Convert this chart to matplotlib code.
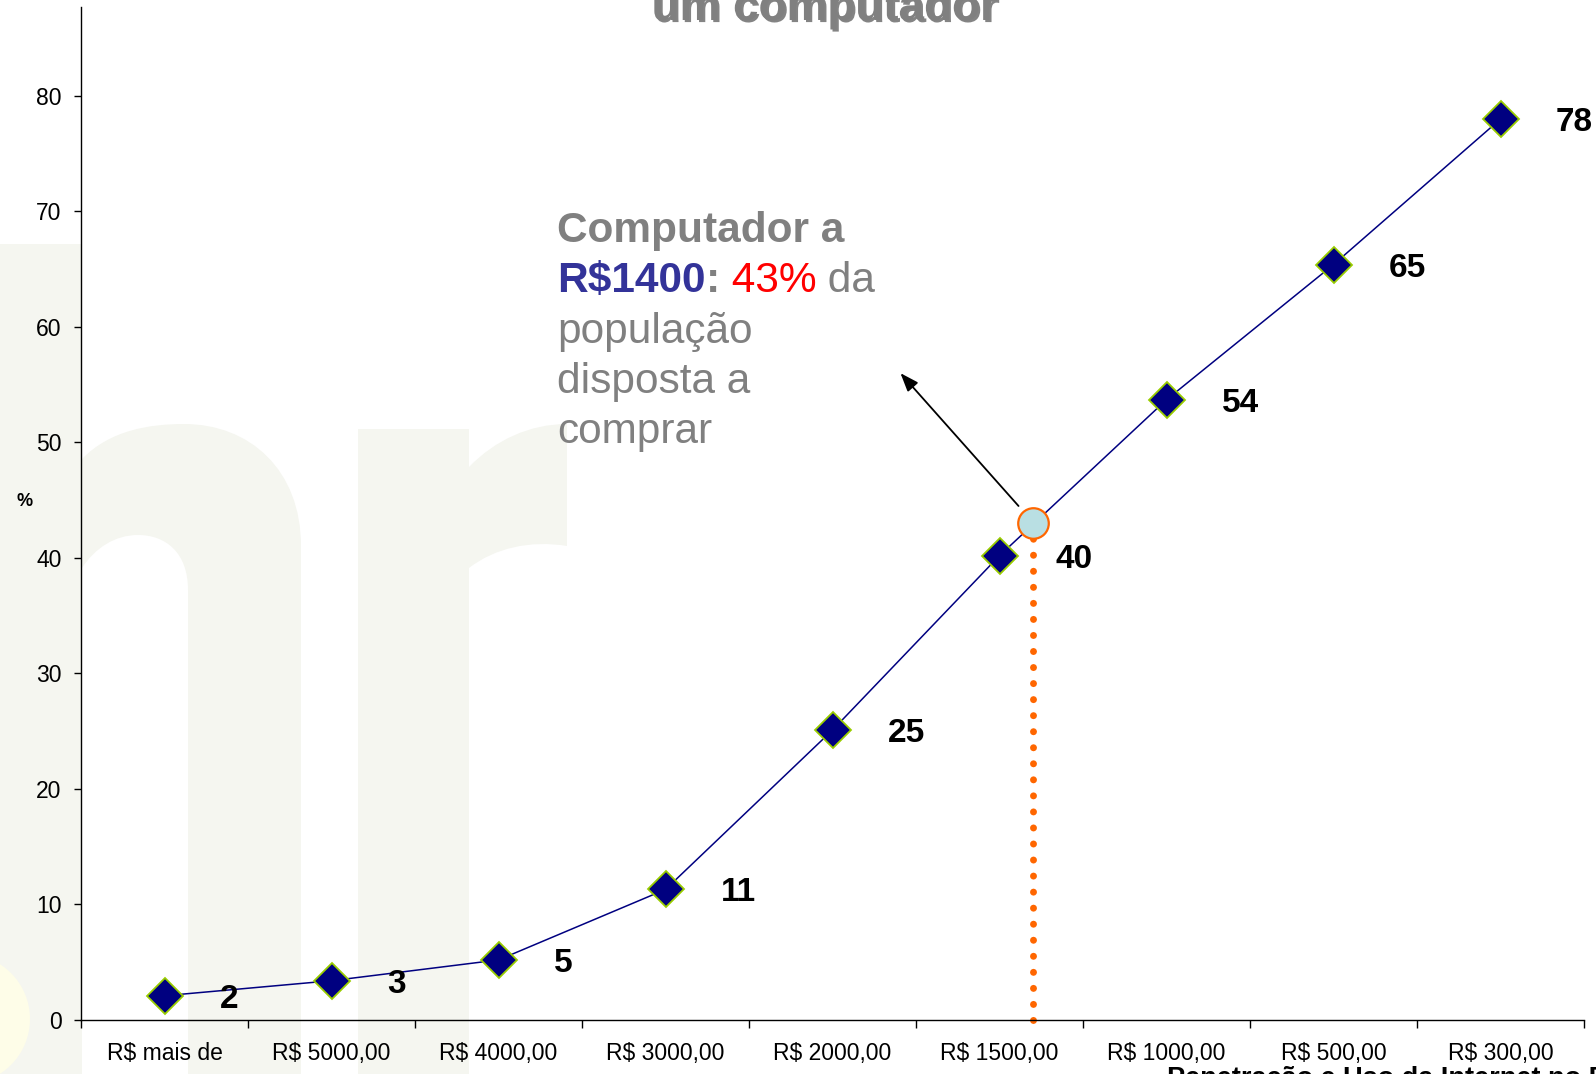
import matplotlib
matplotlib.use("Agg")
import matplotlib.pyplot as plt
import matplotlib.patheffects as pe
from matplotlib.path import Path
from matplotlib.patches import PathPatch, Ellipse

plt.rcParams["font.family"] = ["Liberation Sans", "DejaVu Sans"]

# data
categories = ["R$ mais de", "R$ 5000,00", "R$ 4000,00", "R$ 3000,00", "R$ 2000,00",
              "R$ 1500,00", "R$ 1000,00", "R$ 500,00", "R$ 300,00"]
values = [2.1, 3.4, 5.2, 11.3, 25.1, 40.2, 53.7, 65.4, 78.0]
yticks = [0, 10, 20, 30, 40, 50, 60, 70, 80]
highlight_x = 5.2   # R$1400 sits between R$1500 and R$1000
highlight_y = 43

W, H = 1596, 1074
fig = plt.figure(figsize=(W / 100, H / 100), dpi=100)
fig.patch.set_facecolor("white")


def fpt(x, y):
    # pixel (from top-left) -> figure fraction
    return (x / W, 1 - y / H)


# faint logo watermark behind the chart
WM = "#f5f6f0"
def add_shape(verts, codes, color=WM):
    p = Path([fpt(x, y) for x, y in verts], codes)
    fig.add_artist(PathPatch(p, transform=fig.transFigure, fc=color, ec="none", zorder=-5))

M, L, C, Z = Path.MOVETO, Path.LINETO, Path.CURVE4, Path.CLOSEPOLY
# b stem
add_shape([(0, 1080), (0, 244), (82, 244), (82, 1080), (0, 1080)], [M, L, L, L, Z])
# b bowl
add_shape([(82, 1080), (82, 459), (110, 430), (150, 424), (184, 424),
           (250, 424), (301, 470), (301, 546), (301, 1080), (188, 1080),
           (188, 590), (188, 552), (165, 535), (138, 535),
           (115, 535), (95, 548), (82, 568), (82, 1080)],
          [M, L, C, C, C, C, C, C, L, L, L, C, C, C, C, C, C, Z])
# r stem
add_shape([(358, 1080), (358, 429), (469, 429), (469, 1080), (358, 1080)], [M, L, L, L, Z])
# r arm
add_shape([(469, 467), (495, 440), (530, 424), (567, 424), (567, 546),
           (530, 540), (495, 548), (469, 568), (469, 467)],
          [M, C, C, C, L, C, C, C, Z])
fig.add_artist(Ellipse((-0.35, 0.55), 1.3, 1.3, transform=fig.dpi_scale_trans,
                       fc="#fefde8", ec="none", zorder=-4))

ax = fig.add_axes([81 / W, (H - 1020) / H, (1584 - 81) / W, (1020 - 7) / H])
ax.patch.set_alpha(0)

x = list(range(len(categories)))
ax.plot(x, values, color="#000080", lw=1.1, marker="D", markersize=18.5,
        markerfacecolor="#000080", markeredgecolor="#99cc00", markeredgewidth=1.3,
        zorder=3)

for xi, v in zip(x, values):
    ax.annotate(f"{v:.0f}", (xi, v), xytext=(40, 0), textcoords="offset points",
                ha="left", va="center_baseline", fontsize=24, fontweight="bold",
                color="black", annotation_clip=False)

# R$1400 point and its drop line
ax.plot([highlight_x, highlight_x], [0, highlight_y], color="#ff6600", lw=5,
        linestyle=(0, (0.01, 2.3)), dash_capstyle="round", zorder=2, clip_on=False)
ax.plot([highlight_x], [highlight_y], "o", markersize=22, markerfacecolor="#b9dfe3",
        markeredgecolor="#ff6600", markeredgewidth=1.6, zorder=4)

ax.annotate("", xy=(4.407, 56.0), xytext=(5.114, 44.5),
            arrowprops=dict(arrowstyle="-|>,head_length=0.8,head_width=0.3",
                            color="black", lw=1.3, mutation_scale=14,
                            shrinkA=0, shrinkB=0))

ax.set_xlim(-0.5, len(categories) - 0.5)
ax.set_ylim(0, 87.7)
ax.set_yticks(yticks)
ax.set_xticks([i - 0.5 for i in range(len(categories) + 1)])
ax.set_xticklabels([])
ax.set_xticks(x, minor=True)
ax.set_xticklabels(categories, minor=True)
ax.tick_params(axis="x", which="major", length=6, width=1, direction="out")
ax.tick_params(axis="x", which="minor", length=0, pad=16, labelsize=16.5)
ax.tick_params(axis="y", length=5, width=1, pad=9, labelsize=16.5)
for s in ["top", "right"]:
    ax.spines[s].set_visible(False)
for s in ["left", "bottom"]:
    ax.spines[s].set_linewidth(1)
    ax.spines[s].set_color("black")

fig.text(*fpt(25, 502), "%", fontsize=13, fontweight="bold", ha="center", va="center")

# title (first line falls off the top of the slide)
fig.text(*fpt(825, 20), "um computador", fontsize=33, fontweight="bold", color="#808080",
         ha="center", va="baseline",
         path_effects=[pe.withSimplePatchShadow(offset=(1.5, -1.5), shadow_rgbFace="#333333",
                                                alpha=0.6)])

# source line at the bottom right, cut by the edge
fig.text(*fpt(1167, 1086), "Penetração e Uso da Internet no Brasil", fontsize=19.5,
         fontweight="bold", ha="left", va="baseline")

# callout text
GRAY = "#808080"
fs = 30.5
x0 = 557
fig.text(*fpt(x0, 242), "Computador a", fontsize=fs, fontweight="bold", color=GRAY,
         va="baseline")
t = fig.text(*fpt(x0, 292), "R$1400", fontsize=fs, fontweight="bold", color="#333399",
             va="baseline")
for piece, col, wt in [(":", GRAY, "bold"), (" 43%", "red", "normal"), (" da", GRAY, "normal")]:
    t = ax.annotate(piece, xy=(1, 0), xycoords=t, ha="left", va="bottom",
                    fontsize=fs, fontweight=wt, color=col, annotation_clip=False)
for i, line in enumerate(["população", "disposta a", "comprar"]):
    fig.text(*fpt(x0, 342.5 + 50.3 * i), line, fontsize=fs, color=GRAY, va="baseline")

fig.savefig("out.png", dpi=100)
